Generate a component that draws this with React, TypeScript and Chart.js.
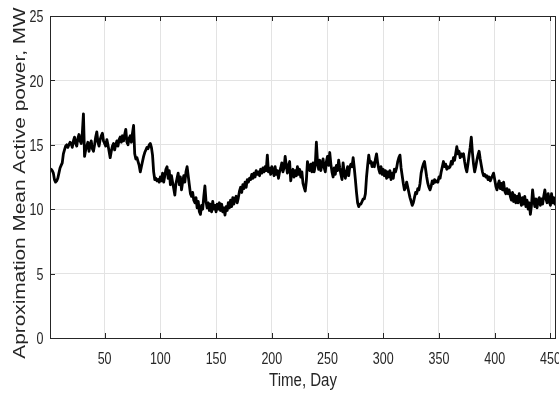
import React, { useEffect, useRef } from "react";
import { Chart, registerables } from "chart.js";

Chart.register(...registerables);

// Approximate mean active power (MW), one value per day, days 1..455
const power: number[] = [
  13.0, 13.1, 13.0, 12.8, 12.3, 12.1, 12.2, 12.4, 12.8, 13.2,
  13.4, 13.6, 14.3, 14.6, 14.9, 15.0, 14.8, 15.0, 15.2, 15.1,
  14.8, 15.3, 15.6, 15.1, 14.9, 15.5, 15.8, 15.3, 15.1, 15.9,
  17.4, 14.1, 14.6, 14.9, 15.2, 14.5, 15.0, 15.3, 14.7, 14.5,
  15.0, 15.6, 16.0, 15.2, 14.9, 15.4, 15.7, 15.9, 15.3, 15.1,
  14.9, 15.4, 15.0, 14.5, 14.0, 14.5, 14.9, 15.1, 14.6, 15.0,
  15.3, 14.9, 15.4, 15.6, 15.2, 15.7, 15.3, 15.8, 16.2, 15.2,
  15.0, 15.5, 15.7, 15.2, 15.9, 16.5, 14.3, 13.9, 14.0, 13.7,
  13.4, 12.9, 13.3, 13.7, 14.1, 14.4, 14.6, 14.8, 14.7, 15.0,
  15.1, 14.8, 14.2, 12.9, 12.3, 12.4, 12.2, 12.3, 12.1, 12.5,
  12.2, 12.8, 12.1, 12.6, 13.1, 13.3, 12.4, 13.0, 11.9, 12.6,
  12.1, 11.6, 11.1, 12.0, 12.4, 12.8, 11.9, 12.5, 11.5, 12.1,
  12.6, 12.1, 12.9, 13.3, 12.6, 11.9, 11.2, 11.0, 11.3, 10.7,
  10.5, 10.9, 10.1, 10.6, 9.8, 9.6, 10.3, 10.0, 11.0, 11.8,
  10.6, 10.1, 10.5, 9.9, 10.4, 9.8, 10.6, 10.0, 10.3, 9.8,
  10.4, 10.0, 10.5, 9.9, 10.4, 9.8, 10.1, 9.55, 10.2, 9.9,
  10.5, 10.1, 10.7, 10.2, 10.9, 10.4, 10.8, 11.0, 10.5, 10.9,
  11.4, 11.7, 11.3, 11.9, 11.6, 12.1, 11.7, 12.3, 12.1, 12.4,
  12.3, 12.7, 12.4, 12.8, 12.5, 13.0, 12.7, 12.9, 12.6, 13.1,
  12.8, 13.2, 12.9, 13.3, 13.0, 14.2, 12.9, 13.2, 12.7, 13.3,
  13.0, 12.6, 13.3, 12.7, 13.0, 12.4, 12.9, 13.2, 13.6, 12.9,
  13.2, 14.1, 13.4, 12.8, 13.4, 13.7, 12.2, 12.8, 13.1, 12.5,
  13.0, 12.6, 13.3, 12.7, 13.1, 12.5, 12.9, 12.0, 11.7, 11.4,
  12.2, 13.7, 13.2, 13.0, 13.5, 12.9, 13.6, 12.9, 13.4, 15.2,
  13.7, 13.1, 13.8, 13.0, 13.5, 13.9, 13.2, 12.9, 13.7, 14.1,
  13.4, 14.4, 13.5, 12.9, 12.5, 13.2, 12.7, 13.4, 13.0, 13.8,
  13.2, 12.7, 12.3, 13.6, 12.8, 12.4, 12.9, 13.3, 12.6, 13.3,
  13.5, 13.3, 14.0, 13.2, 12.3, 11.3, 10.5, 10.2, 10.4, 10.4,
  10.6, 10.8, 10.8, 11.2, 12.5, 13.4, 14.2, 13.6, 13.7, 13.3,
  13.6, 13.3, 13.9, 14.3, 13.6, 13.1, 12.8, 13.3, 12.7, 13.1,
  12.6, 13.0, 12.4, 12.9, 12.5, 13.0, 12.3, 12.8, 12.4, 13.1,
  12.9, 13.2, 13.7, 14.0, 14.2, 13.2, 12.6, 12.0, 11.5, 11.7,
  12.1, 11.7, 11.3, 10.9, 10.6, 10.3, 10.5, 10.9, 11.3, 11.2,
  11.6, 11.5, 12.0, 12.8, 13.2, 13.5, 13.7, 13.1, 12.5, 12.0,
  11.7, 11.5, 11.8, 12.2, 12.0, 12.3, 12.1, 12.2, 12.1, 12.5,
  12.4, 12.9, 13.3, 13.7, 13.3, 13.5, 13.1, 13.3, 13.2, 13.3,
  13.7, 13.5, 14.0, 13.8, 14.3, 14.85, 14.3, 14.5, 14.0, 14.3,
  14.1, 14.3, 13.7, 13.2, 12.9, 13.5, 14.2, 14.8, 15.6, 14.4,
  13.5, 12.9, 13.3, 13.8, 14.2, 14.5, 13.9, 13.4, 12.9, 12.6,
  12.7, 12.5, 12.6, 12.3, 12.5, 12.2, 12.4, 12.6, 12.8, 12.3,
  11.8, 11.5, 11.9, 12.2, 11.6, 12.0, 11.5, 12.1, 11.4, 11.2,
  11.6, 11.2, 11.5, 11.0, 10.7, 11.3, 10.6, 11.1, 10.5, 11.0,
  10.5, 11.2, 10.7, 10.3, 10.9, 10.4, 11.0, 10.2, 10.7, 10.0,
  10.5, 9.6, 10.3, 11.5, 10.7, 10.2, 10.8, 10.1, 10.7, 10.9,
  10.3, 10.8, 10.4, 11.0, 11.5, 10.8, 10.5, 11.2, 10.6, 10.3,
  11.2, 10.5, 10.9, 10.4, 10.8,
];

const days: number[] = power.map((_, i) => i + 1);
const xTicks: number[] = [50, 100, 150, 200, 250, 300, 350, 400, 450];
const yTicks: number[] = [0, 5, 10, 15, 20, 25];
const xTitle = "Time, Day";
const yTitle = "Aproximation Mean Active power, MW";

const AXIS_COLOR = "#262626";
const GRID_COLOR = "#e3e3e3";
const SANS = '"Liberation Sans", Arial, Helvetica, sans-serif';

function drawSquished(ctx: any, text: string, x: number, y: number, sx: number, align: string) {
  ctx.save();
  ctx.translate(x, y);
  ctx.scale(sx, 1);
  ctx.textAlign = align;
  ctx.fillText(text, 0, 0);
  ctx.restore();
}

const framePlugin = {
  id: "frame",
  afterDraw(chart: any) {
    const { ctx, chartArea: a, scales } = chart;
    ctx.save();
    ctx.strokeStyle = AXIS_COLOR;
    ctx.lineWidth = 1;
    ctx.beginPath();
    for (const v of xTicks) {
      const px = Math.round(scales.x.getPixelForValue(v)) + 0.5;
      ctx.moveTo(px, a.bottom);
      ctx.lineTo(px, a.bottom - 5);
      ctx.moveTo(px, a.top);
      ctx.lineTo(px, a.top + 5);
    }
    for (const v of yTicks) {
      const py = Math.round(scales.y.getPixelForValue(v)) + 0.5;
      ctx.moveTo(a.left, py);
      ctx.lineTo(a.left + 5, py);
      ctx.moveTo(a.right, py);
      ctx.lineTo(a.right - 5, py);
    }
    ctx.stroke();
    ctx.strokeRect(
      Math.round(a.left) + 0.5,
      Math.round(a.top) + 0.5,
      Math.round(a.right - a.left) - 1,
      Math.round(a.bottom - a.top)
    );

    // tick labels
    ctx.fillStyle = AXIS_COLOR;
    ctx.textBaseline = "alphabetic";
    ctx.font = "16px " + SANS;
    for (const v of xTicks) {
      drawSquished(ctx, String(v), scales.x.getPixelForValue(v), 363.5, 0.78, "center");
    }
    for (const v of yTicks) {
      drawSquished(ctx, String(v), a.left - 6.5, scales.y.getPixelForValue(v) + 6.2, 0.78, "right");
    }

    // axis titles
    ctx.font = "17.5px " + SANS;
    drawSquished(ctx, xTitle, (a.left + a.right) / 2, 386, 0.86, "center");

    ctx.save();
    ctx.translate(25, 183);
    ctx.rotate(-Math.PI / 2);
    ctx.scale(1, 0.82);
    ctx.textAlign = "center";
    ctx.font = "20.8px " + SANS;
    ctx.fillText(yTitle, 0, 0);
    ctx.restore();
    ctx.restore();
  },
};

export default function App() {
  const ref = useRef<HTMLCanvasElement | null>(null);
  useEffect(() => {
    if (!ref.current) return;
    const chart = new Chart(ref.current, {
      type: "line",
      data: {
        datasets: [
          {
            data: days.map((d, i) => ({ x: d, y: power[i] })),
            borderColor: "#000000",
            borderWidth: 2.8,
            pointRadius: 0,
            tension: 0,
            fill: false,
            borderJoinStyle: "round",
          },
        ],
      },
      options: {
        animation: false,
        responsive: true,
        maintainAspectRatio: false,
        layout: { padding: { top: 16, right: 3, left: 0, bottom: 0 } },
        plugins: { legend: { display: false }, tooltip: { enabled: false } },
        scales: {
          x: {
            type: "linear",
            min: 1,
            max: 455,
            border: { display: false },
            grid: { color: GRID_COLOR, drawTicks: false, lineWidth: 1 },
            afterBuildTicks: (s: any) => {
              s.ticks = xTicks.map((v) => ({ value: v }));
            },
            afterFit: (s: any) => {
              s.height = 56;
            },
            ticks: { display: false },
          },
          y: {
            type: "linear",
            min: 0,
            max: 25,
            border: { display: false },
            grid: { color: GRID_COLOR, drawTicks: false, lineWidth: 1 },
            afterBuildTicks: (s: any) => {
              s.ticks = yTicks.map((v) => ({ value: v }));
            },
            afterFit: (s: any) => {
              s.width = 50;
            },
            ticks: { display: false },
          },
        },
      },
      plugins: [framePlugin],
    });
    return () => chart.destroy();
  }, []);

  return (
    <div style={{ position: "fixed", left: 0, top: 0, width: 559, height: 394, background: "#fff" }}>
      <canvas ref={ref} />
    </div>
  );
}
